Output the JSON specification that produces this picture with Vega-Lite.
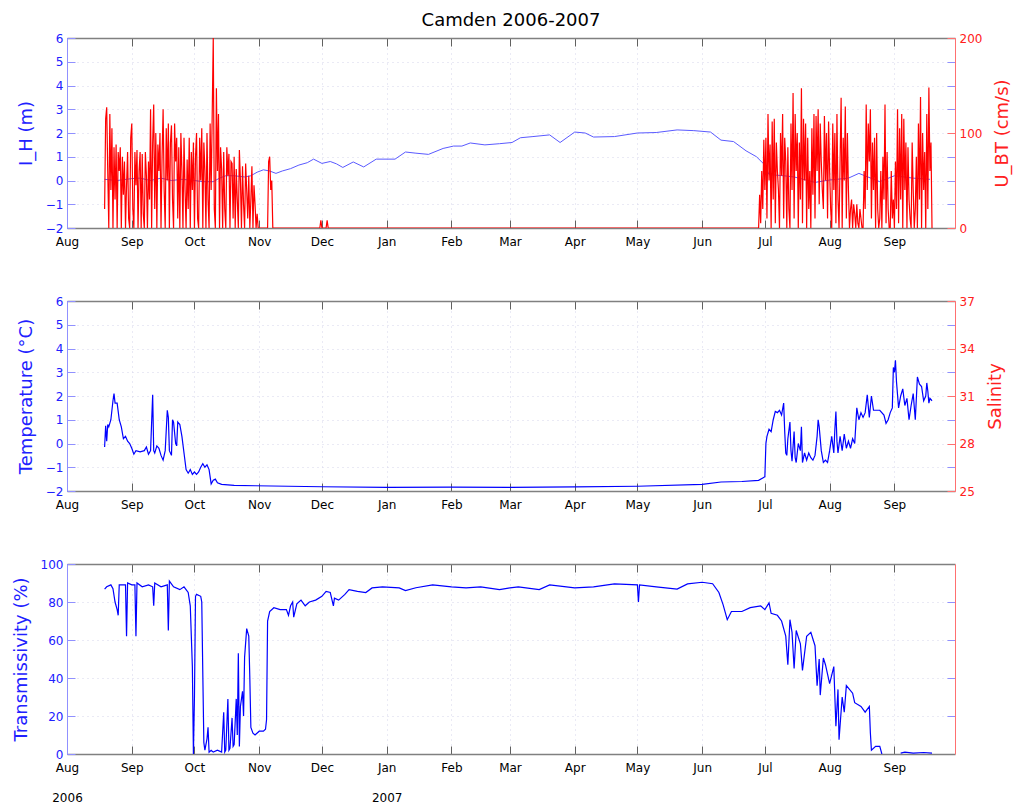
{
"$schema": "https://vega.github.io/schema/vega-lite/v6.json",
"padding": {"left": 12, "top": 12, "right": 5, "bottom": 5},
"title": {"text": "Camden 2006-2007", "font": "DejaVu Sans", "fontSize": 18, "fontWeight": "normal", "color": "#000000", "anchor": "middle", "frame": "group", "offset": 2},
"config": {
  "view": {"stroke": null},
  "font": "DejaVu Sans",
  "axis": {"labelFont": "DejaVu Sans", "labelFontSize": 12, "titleFont": "DejaVu Sans", "titleFontSize": 18, "titleFontWeight": "normal", "tickSize": -8, "labelFlush": false, "labelOverlap": false, "grid": false}
},
"spacing": 48,
"datasets": {
"ih": [{"t":"2006-08-19","v":0.05},{"t":"2006-08-25","v":0.0},{"t":"2006-09-01","v":0.08},{"t":"2006-09-05","v":0.1},{"t":"2006-09-10","v":0.0},{"t":"2006-09-15","v":0.1},{"t":"2006-09-20","v":0.0},{"t":"2006-09-25","v":0.05},{"t":"2006-10-01","v":0.0},{"t":"2006-10-05","v":-0.05},{"t":"2006-10-10","v":-0.05},{"t":"2006-10-13","v":0.1},{"t":"2006-10-16","v":0.2},{"t":"2006-10-20","v":0.2},{"t":"2006-10-25","v":0.15},{"t":"2006-10-28","v":0.2},{"t":"2006-10-31","v":0.35},{"t":"2006-11-03","v":0.45},{"t":"2006-11-06","v":0.4},{"t":"2006-11-09","v":0.3},{"t":"2006-11-12","v":0.4},{"t":"2006-11-16","v":0.5},{"t":"2006-11-20","v":0.65},{"t":"2006-11-24","v":0.75},{"t":"2006-11-27","v":0.9},{"t":"2006-12-01","v":0.72},{"t":"2006-12-05","v":0.8},{"t":"2006-12-08","v":0.7},{"t":"2006-12-11","v":0.55},{"t":"2006-12-16","v":0.78},{"t":"2006-12-21","v":0.57},{"t":"2006-12-27","v":0.9},{"t":"2007-01-05","v":0.9},{"t":"2007-01-10","v":1.2},{"t":"2007-01-15","v":1.15},{"t":"2007-01-21","v":1.1},{"t":"2007-01-28","v":1.35},{"t":"2007-02-02","v":1.45},{"t":"2007-02-06","v":1.45},{"t":"2007-02-10","v":1.58},{"t":"2007-02-17","v":1.5},{"t":"2007-02-24","v":1.55},{"t":"2007-03-02","v":1.6},{"t":"2007-03-06","v":1.8},{"t":"2007-03-12","v":1.85},{"t":"2007-03-20","v":1.92},{"t":"2007-03-25","v":1.6},{"t":"2007-04-01","v":2.04},{"t":"2007-04-06","v":2.0},{"t":"2007-04-10","v":1.83},{"t":"2007-04-20","v":1.85},{"t":"2007-05-01","v":2.0},{"t":"2007-05-10","v":2.02},{"t":"2007-05-20","v":2.13},{"t":"2007-05-28","v":2.1},{"t":"2007-06-05","v":2.04},{"t":"2007-06-10","v":1.7},{"t":"2007-06-16","v":1.64},{"t":"2007-06-22","v":1.25},{"t":"2007-06-27","v":1.0},{"t":"2007-07-01","v":0.65},{"t":"2007-07-03","v":0.25},{"t":"2007-07-10","v":0.2},{"t":"2007-07-15","v":0.15},{"t":"2007-07-25","v":-0.08},{"t":"2007-08-01","v":0.02},{"t":"2007-08-10","v":0.1},{"t":"2007-08-15","v":0.3},{"t":"2007-08-25","v":-0.05},{"t":"2007-09-01","v":0.2},{"t":"2007-09-10","v":0.1},{"t":"2007-09-18","v":0.05}],
"ubt": [
{"t":"2006-08-19","v":20},{"t":"2006-08-19T12:00","v":115},{"t":"2006-08-20","v":127},{"t":"2006-08-20T12:00","v":60},{"t":"2006-08-21","v":0},{"t":"2006-08-21T12:00","v":120},{"t":"2006-08-22","v":40},{"t":"2006-08-22T12:00","v":105},{"t":"2006-08-23","v":0},{"t":"2006-08-23T12:00","v":85},{"t":"2006-08-24","v":30},{"t":"2006-08-24T12:00","v":88},{"t":"2006-08-25","v":0},{"t":"2006-08-25T12:00","v":80},{"t":"2006-08-26","v":60},{"t":"2006-08-26T12:00","v":85},{"t":"2006-08-27","v":0},{"t":"2006-08-27T12:00","v":75},{"t":"2006-08-28","v":35},{"t":"2006-08-28T12:00","v":70},{"t":"2006-08-29","v":0},{"t":"2006-08-29T12:00","v":45},{"t":"2006-08-30","v":80},{"t":"2006-08-30T12:00","v":10},{"t":"2006-08-31","v":0},{"t":"2006-08-31T12:00","v":95},
{"t":"2006-09-01","v":110},{"t":"2006-09-01T12:00","v":20},{"t":"2006-09-02","v":0},{"t":"2006-09-02T12:00","v":80},{"t":"2006-09-03","v":45},{"t":"2006-09-03T12:00","v":82},{"t":"2006-09-04","v":0},{"t":"2006-09-04T12:00","v":60},{"t":"2006-09-05","v":80},{"t":"2006-09-05T12:00","v":0},{"t":"2006-09-06","v":78},{"t":"2006-09-06T12:00","v":15},{"t":"2006-09-07","v":0},{"t":"2006-09-07T12:00","v":80},{"t":"2006-09-08","v":55},{"t":"2006-09-08T12:00","v":0},{"t":"2006-09-09","v":70},{"t":"2006-09-09T12:00","v":30},{"t":"2006-09-10","v":125},{"t":"2006-09-10T12:00","v":0},{"t":"2006-09-11","v":90},{"t":"2006-09-11T12:00","v":130},{"t":"2006-09-12","v":20},{"t":"2006-09-12T12:00","v":100},{"t":"2006-09-13","v":0},{"t":"2006-09-13T12:00","v":88},{"t":"2006-09-14","v":60},{"t":"2006-09-14T12:00","v":100},{"t":"2006-09-15","v":0},{"t":"2006-09-15T12:00","v":75},{"t":"2006-09-16","v":125},{"t":"2006-09-16T12:00","v":40},{"t":"2006-09-17","v":0},{"t":"2006-09-17T12:00","v":105},{"t":"2006-09-18","v":50},{"t":"2006-09-18T12:00","v":110},{"t":"2006-09-19","v":0},{"t":"2006-09-19T12:00","v":90},{"t":"2006-09-20","v":108},{"t":"2006-09-20T12:00","v":30},{"t":"2006-09-21","v":0},{"t":"2006-09-21T12:00","v":110},{"t":"2006-09-22","v":70},{"t":"2006-09-22T12:00","v":95},{"t":"2006-09-23","v":10},{"t":"2006-09-23T12:00","v":85},{"t":"2006-09-24","v":0},{"t":"2006-09-24T12:00","v":100},{"t":"2006-09-25","v":60},{"t":"2006-09-25T12:00","v":0},{"t":"2006-09-26","v":95},{"t":"2006-09-26T12:00","v":40},{"t":"2006-09-27","v":0},{"t":"2006-09-27T12:00","v":72},{"t":"2006-09-28","v":20},{"t":"2006-09-28T12:00","v":95},{"t":"2006-09-29","v":0},{"t":"2006-09-29T12:00","v":80},{"t":"2006-09-30","v":40},{"t":"2006-09-30T12:00","v":90},
{"t":"2006-10-01","v":0},{"t":"2006-10-01T12:00","v":75},{"t":"2006-10-02","v":100},{"t":"2006-10-02T12:00","v":10},{"t":"2006-10-03","v":0},{"t":"2006-10-03T12:00","v":95},{"t":"2006-10-04","v":50},{"t":"2006-10-04T12:00","v":105},{"t":"2006-10-05","v":0},{"t":"2006-10-05T12:00","v":90},{"t":"2006-10-06","v":60},{"t":"2006-10-06T12:00","v":0},{"t":"2006-10-07","v":100},{"t":"2006-10-07T12:00","v":30},{"t":"2006-10-08","v":0},{"t":"2006-10-08T12:00","v":110},{"t":"2006-10-09","v":40},{"t":"2006-10-09T12:00","v":120},{"t":"2006-10-10","v":200},{"t":"2006-10-10T12:00","v":20},{"t":"2006-10-11","v":0},{"t":"2006-10-11T12:00","v":147},{"t":"2006-10-12","v":60},{"t":"2006-10-12T12:00","v":120},{"t":"2006-10-13","v":0},{"t":"2006-10-13T12:00","v":85},{"t":"2006-10-14","v":62},{"t":"2006-10-14T12:00","v":0},{"t":"2006-10-15","v":80},{"t":"2006-10-15T12:00","v":20},{"t":"2006-10-16","v":0},{"t":"2006-10-16T12:00","v":85},{"t":"2006-10-17","v":55},{"t":"2006-10-17T12:00","v":78},{"t":"2006-10-18","v":0},{"t":"2006-10-18T12:00","v":70},{"t":"2006-10-19","v":68},{"t":"2006-10-19T12:00","v":10},{"t":"2006-10-20","v":75},{"t":"2006-10-20T12:00","v":0},{"t":"2006-10-21","v":62},{"t":"2006-10-21T12:00","v":30},{"t":"2006-10-22","v":0},{"t":"2006-10-22T12:00","v":82},{"t":"2006-10-23","v":50},{"t":"2006-10-23T12:00","v":0},{"t":"2006-10-24","v":65},{"t":"2006-10-24T12:00","v":25},{"t":"2006-10-25","v":0},{"t":"2006-10-25T12:00","v":68},{"t":"2006-10-26","v":40},{"t":"2006-10-26T12:00","v":10},{"t":"2006-10-27","v":55},{"t":"2006-10-27T12:00","v":0},{"t":"2006-10-28","v":30},{"t":"2006-10-28T12:00","v":65},{"t":"2006-10-29","v":0},{"t":"2006-10-29T12:00","v":45},{"t":"2006-10-30","v":25},{"t":"2006-10-30T12:00","v":0},{"t":"2006-10-31","v":15},{"t":"2006-10-31T12:00","v":0},
{"t":"2006-11-05","v":0},{"t":"2006-11-05T12:00","v":70},{"t":"2006-11-06","v":75},{"t":"2006-11-06T12:00","v":40},{"t":"2006-11-07","v":50},{"t":"2006-11-07T12:00","v":0},{"t":"2006-11-30","v":0},{"t":"2006-11-30T12:00","v":8},{"t":"2006-12-01","v":0},{"t":"2006-12-03","v":0},{"t":"2006-12-03T12:00","v":8},{"t":"2006-12-04","v":0},{"t":"2007-06-27","v":0},
{"t":"2007-06-28","v":0},{"t":"2007-06-28T12:00","v":35},{"t":"2007-06-29","v":5},{"t":"2007-06-29T12:00","v":60},{"t":"2007-06-30","v":20},{"t":"2007-06-30T12:00","v":93},
{"t":"2007-07-01","v":40},{"t":"2007-07-01T12:00","v":95},{"t":"2007-07-02","v":10},{"t":"2007-07-02T12:00","v":120},{"t":"2007-07-03","v":50},{"t":"2007-07-03T12:00","v":88},{"t":"2007-07-04","v":0},{"t":"2007-07-04T12:00","v":112},{"t":"2007-07-05","v":30},{"t":"2007-07-05T12:00","v":115},{"t":"2007-07-06","v":5},{"t":"2007-07-06T12:00","v":90},{"t":"2007-07-07","v":60},{"t":"2007-07-07T12:00","v":40},{"t":"2007-07-08","v":0},{"t":"2007-07-08T12:00","v":100},{"t":"2007-07-09","v":55},{"t":"2007-07-09T12:00","v":120},{"t":"2007-07-10","v":10},{"t":"2007-07-10T12:00","v":95},{"t":"2007-07-11","v":70},{"t":"2007-07-11T12:00","v":0},{"t":"2007-07-12","v":85},{"t":"2007-07-12T12:00","v":20},{"t":"2007-07-13","v":0},{"t":"2007-07-13T12:00","v":110},{"t":"2007-07-14","v":40},{"t":"2007-07-14T12:00","v":142},{"t":"2007-07-15","v":10},{"t":"2007-07-15T12:00","v":120},{"t":"2007-07-16","v":60},{"t":"2007-07-16T12:00","v":100},{"t":"2007-07-17","v":0},{"t":"2007-07-17T12:00","v":90},{"t":"2007-07-18","v":30},{"t":"2007-07-18T12:00","v":147},{"t":"2007-07-19","v":5},{"t":"2007-07-19T12:00","v":115},{"t":"2007-07-20","v":50},{"t":"2007-07-20T12:00","v":110},{"t":"2007-07-21","v":0},{"t":"2007-07-21T12:00","v":95},{"t":"2007-07-22","v":20},{"t":"2007-07-22T12:00","v":60},{"t":"2007-07-23","v":0},{"t":"2007-07-23T12:00","v":105},{"t":"2007-07-24","v":35},{"t":"2007-07-24T12:00","v":120},{"t":"2007-07-25","v":10},{"t":"2007-07-25T12:00","v":118},{"t":"2007-07-26","v":60},{"t":"2007-07-26T12:00","v":125},{"t":"2007-07-27","v":25},{"t":"2007-07-27T12:00","v":110},{"t":"2007-07-28","v":70},{"t":"2007-07-28T12:00","v":40},{"t":"2007-07-29","v":20},{"t":"2007-07-29T12:00","v":118},{"t":"2007-07-30","v":50},{"t":"2007-07-30T12:00","v":100},{"t":"2007-07-31","v":10},{"t":"2007-07-31T12:00","v":112},
{"t":"2007-08-01","v":60},{"t":"2007-08-01T12:00","v":20},{"t":"2007-08-02","v":0},{"t":"2007-08-02T12:00","v":110},{"t":"2007-08-03","v":40},{"t":"2007-08-03T12:00","v":100},{"t":"2007-08-04","v":5},{"t":"2007-08-04T12:00","v":120},{"t":"2007-08-05","v":30},{"t":"2007-08-05T12:00","v":0},{"t":"2007-08-06","v":70},{"t":"2007-08-06T12:00","v":137},{"t":"2007-08-07","v":0},{"t":"2007-08-07T12:00","v":95},{"t":"2007-08-08","v":50},{"t":"2007-08-08T12:00","v":128},{"t":"2007-08-09","v":10},{"t":"2007-08-09T12:00","v":100},{"t":"2007-08-10","v":40},{"t":"2007-08-10T12:00","v":0},{"t":"2007-08-11","v":20},{"t":"2007-08-11T12:00","v":30},{"t":"2007-08-12","v":0},{"t":"2007-08-12T12:00","v":25},{"t":"2007-08-13","v":15},{"t":"2007-08-13T12:00","v":0},{"t":"2007-08-14","v":25},{"t":"2007-08-14T12:00","v":5},{"t":"2007-08-15","v":0},{"t":"2007-08-15T12:00","v":20},{"t":"2007-08-16","v":10},{"t":"2007-08-16T12:00","v":0},{"t":"2007-08-17","v":0},{"t":"2007-08-17T12:00","v":60},{"t":"2007-08-18","v":20},{"t":"2007-08-18T12:00","v":130},{"t":"2007-08-19","v":40},{"t":"2007-08-19T12:00","v":110},{"t":"2007-08-20","v":70},{"t":"2007-08-20T12:00","v":125},{"t":"2007-08-21","v":10},{"t":"2007-08-21T12:00","v":90},{"t":"2007-08-22","v":40},{"t":"2007-08-22T12:00","v":95},{"t":"2007-08-23","v":0},{"t":"2007-08-23T12:00","v":100},{"t":"2007-08-24","v":20},{"t":"2007-08-24T12:00","v":0},{"t":"2007-08-25","v":10},{"t":"2007-08-25T12:00","v":60},{"t":"2007-08-26","v":0},{"t":"2007-08-26T12:00","v":75},{"t":"2007-08-27","v":30},{"t":"2007-08-27T12:00","v":130},{"t":"2007-08-28","v":5},{"t":"2007-08-28T12:00","v":80},{"t":"2007-08-29","v":20},{"t":"2007-08-29T12:00","v":0},{"t":"2007-08-30","v":0},{"t":"2007-08-30T12:00","v":60},{"t":"2007-08-31","v":10},{"t":"2007-08-31T12:00","v":30},
{"t":"2007-09-01","v":0},{"t":"2007-09-01T12:00","v":70},{"t":"2007-09-02","v":20},{"t":"2007-09-02T12:00","v":125},{"t":"2007-09-03","v":5},{"t":"2007-09-03T12:00","v":105},{"t":"2007-09-04","v":30},{"t":"2007-09-04T12:00","v":120},{"t":"2007-09-05","v":0},{"t":"2007-09-05T12:00","v":115},{"t":"2007-09-06","v":40},{"t":"2007-09-06T12:00","v":90},{"t":"2007-09-07","v":0},{"t":"2007-09-07T12:00","v":85},{"t":"2007-09-08","v":30},{"t":"2007-09-08T12:00","v":10},{"t":"2007-09-09","v":0},{"t":"2007-09-09T12:00","v":90},{"t":"2007-09-10","v":40},{"t":"2007-09-10T12:00","v":0},{"t":"2007-09-11","v":20},{"t":"2007-09-11T12:00","v":75},{"t":"2007-09-12","v":0},{"t":"2007-09-12T12:00","v":110},{"t":"2007-09-13","v":30},{"t":"2007-09-13T12:00","v":138},{"t":"2007-09-14","v":0},{"t":"2007-09-14T12:00","v":100},{"t":"2007-09-15","v":40},{"t":"2007-09-15T12:00","v":80},{"t":"2007-09-16","v":0},{"t":"2007-09-16T12:00","v":120},{"t":"2007-09-17","v":20},{"t":"2007-09-17T12:00","v":148},{"t":"2007-09-18","v":60},{"t":"2007-09-18T12:00","v":90},{"t":"2007-09-19","v":0}],
"temp": [{"t":"2006-08-19","v":-0.15},{"t":"2006-08-19T12:00","v":0.75},{"t":"2006-08-20","v":0.1},{"t":"2006-08-20T12:00","v":0.8},{"t":"2006-08-21","v":0.7},{"t":"2006-08-22","v":1.0},{"t":"2006-08-23","v":1.8},{"t":"2006-08-23T12:00","v":2.1},{"t":"2006-08-24","v":1.7},{"t":"2006-08-25","v":1.7},{"t":"2006-08-26","v":1.0},{"t":"2006-08-27","v":0.7},{"t":"2006-08-28","v":0.2},{"t":"2006-08-29","v":0.3},{"t":"2006-08-30","v":0.1},{"t":"2006-08-31","v":0.0},{"t":"2006-09-01","v":-0.2},{"t":"2006-09-02","v":-0.45},{"t":"2006-09-03","v":-0.3},{"t":"2006-09-05","v":-0.35},{"t":"2006-09-07","v":-0.3},{"t":"2006-09-08","v":-0.15},{"t":"2006-09-09","v":-0.45},{"t":"2006-09-10","v":-0.3},{"t":"2006-09-11","v":2.05},{"t":"2006-09-11T12:00","v":-0.3},{"t":"2006-09-12","v":-0.4},{"t":"2006-09-13","v":-0.1},{"t":"2006-09-14","v":-0.2},{"t":"2006-09-15","v":-0.5},{"t":"2006-09-16","v":-0.7},{"t":"2006-09-17","v":-0.3},{"t":"2006-09-18","v":1.4},{"t":"2006-09-18T12:00","v":1.1},{"t":"2006-09-19","v":-0.3},{"t":"2006-09-20","v":-0.5},{"t":"2006-09-20T12:00","v":1.0},{"t":"2006-09-21","v":0.9},{"t":"2006-09-22","v":0.0},{"t":"2006-09-22T12:00","v":-0.1},{"t":"2006-09-23","v":0.9},{"t":"2006-09-24","v":0.8},{"t":"2006-09-25","v":0.3},{"t":"2006-09-26","v":-0.4},{"t":"2006-09-27","v":-1.1},{"t":"2006-09-28","v":-1.25},{"t":"2006-09-29","v":-1.1},{"t":"2006-09-30","v":-1.3},{"t":"2006-10-01","v":-1.2},{"t":"2006-10-02","v":-1.3},{"t":"2006-10-03","v":-1.2},{"t":"2006-10-04","v":-1.0},{"t":"2006-10-05","v":-0.85},{"t":"2006-10-06","v":-1.0},{"t":"2006-10-07","v":-0.9},{"t":"2006-10-08","v":-1.1},{"t":"2006-10-09","v":-1.7},{"t":"2006-10-10","v":-1.55},{"t":"2006-10-11","v":-1.5},{"t":"2006-10-12","v":-1.65},{"t":"2006-10-14","v":-1.72},{"t":"2006-10-20","v":-1.76},{"t":"2006-10-30","v":-1.78},{"t":"2006-11-15","v":-1.8},{"t":"2006-12-01","v":-1.82},{"t":"2007-01-01","v":-1.85},{"t":"2007-02-01","v":-1.84},{"t":"2007-03-01","v":-1.85},{"t":"2007-04-01","v":-1.83},{"t":"2007-05-01","v":-1.8},{"t":"2007-06-01","v":-1.72},{"t":"2007-06-10","v":-1.62},{"t":"2007-06-20","v":-1.6},{"t":"2007-06-28","v":-1.55},{"t":"2007-06-30","v":-1.45},{"t":"2007-07-01","v":-1.4},{"t":"2007-07-01T12:00","v":0.0},{"t":"2007-07-02","v":0.3},{"t":"2007-07-03","v":0.6},{"t":"2007-07-04","v":0.5},{"t":"2007-07-05","v":1.0},{"t":"2007-07-06","v":1.35},{"t":"2007-07-07","v":1.3},{"t":"2007-07-08","v":1.4},{"t":"2007-07-09","v":1.2},{"t":"2007-07-10","v":1.7},{"t":"2007-07-10T12:00","v":0.5},{"t":"2007-07-11","v":-0.4},{"t":"2007-07-11T12:00","v":-0.5},{"t":"2007-07-12","v":0.2},{"t":"2007-07-13","v":0.9},{"t":"2007-07-13T12:00","v":-0.3},{"t":"2007-07-14","v":-0.75},{"t":"2007-07-15","v":0.5},{"t":"2007-07-15T12:00","v":-0.6},{"t":"2007-07-16","v":-0.8},{"t":"2007-07-17","v":0.0},{"t":"2007-07-18","v":-0.3},{"t":"2007-07-18T12:00","v":0.7},{"t":"2007-07-19","v":-0.8},{"t":"2007-07-20","v":-0.4},{"t":"2007-07-21","v":-0.7},{"t":"2007-07-22","v":-0.4},{"t":"2007-07-23","v":-0.6},{"t":"2007-07-24","v":-0.7},{"t":"2007-07-25","v":-0.5},{"t":"2007-07-26","v":0.3},{"t":"2007-07-26T12:00","v":1.0},{"t":"2007-07-27","v":0.7},{"t":"2007-07-28","v":-0.3},{"t":"2007-07-29","v":-0.8},{"t":"2007-07-30","v":-0.7},{"t":"2007-07-31","v":-0.8},{"t":"2007-08-01","v":-0.3},{"t":"2007-08-02","v":0.3},{"t":"2007-08-03","v":-0.4},{"t":"2007-08-03T12:00","v":0.6},{"t":"2007-08-04","v":1.35},{"t":"2007-08-04T12:00","v":0.1},{"t":"2007-08-05","v":-0.4},{"t":"2007-08-06","v":0.3},{"t":"2007-08-07","v":-0.3},{"t":"2007-08-08","v":0.4},{"t":"2007-08-09","v":-0.2},{"t":"2007-08-10","v":0.1},{"t":"2007-08-11","v":-0.2},{"t":"2007-08-12","v":0.2},{"t":"2007-08-13","v":0.0},{"t":"2007-08-14","v":1.5},{"t":"2007-08-15","v":1.0},{"t":"2007-08-16","v":1.3},{"t":"2007-08-17","v":1.1},{"t":"2007-08-18","v":1.3},{"t":"2007-08-19","v":2.05},{"t":"2007-08-20","v":1.1},{"t":"2007-08-21","v":2.0},{"t":"2007-08-22","v":1.4},{"t":"2007-08-23","v":1.4},{"t":"2007-08-25","v":1.4},{"t":"2007-08-27","v":1.2},{"t":"2007-08-28","v":0.85},{"t":"2007-08-29","v":1.0},{"t":"2007-08-30","v":1.3},{"t":"2007-08-31","v":1.5},{"t":"2007-08-31T12:00","v":3.2},{"t":"2007-09-01","v":3.0},{"t":"2007-09-01T12:00","v":3.5},{"t":"2007-09-02","v":2.6},{"t":"2007-09-03","v":1.5},{"t":"2007-09-04","v":2.0},{"t":"2007-09-05","v":2.3},{"t":"2007-09-06","v":1.6},{"t":"2007-09-07","v":1.9},{"t":"2007-09-08","v":1.0},{"t":"2007-09-09","v":1.6},{"t":"2007-09-10","v":2.1},{"t":"2007-09-11","v":1.0},{"t":"2007-09-12","v":2.8},{"t":"2007-09-13","v":2.5},{"t":"2007-09-14","v":2.4},{"t":"2007-09-15","v":1.8},{"t":"2007-09-16","v":2.0},{"t":"2007-09-16T12:00","v":2.55},{"t":"2007-09-17","v":2.2},{"t":"2007-09-17T12:00","v":1.7},{"t":"2007-09-18","v":1.9},{"t":"2007-09-19","v":1.8}],
"trans": [{"t":"2006-08-19","v":86.8},{"t":"2006-08-20","v":88},{"t":"2006-08-22","v":89},{"t":"2006-08-23","v":87},{"t":"2006-08-24","v":80},{"t":"2006-08-25","v":76},{"t":"2006-08-25T12:00","v":73},{"t":"2006-08-26","v":89},{"t":"2006-08-28","v":89},{"t":"2006-08-29","v":89},{"t":"2006-08-29T12:00","v":62},{"t":"2006-08-30","v":90},{"t":"2006-09-01","v":89},{"t":"2006-09-02T12:00","v":89},{"t":"2006-09-03","v":62},{"t":"2006-09-03T12:00","v":90},{"t":"2006-09-06","v":88},{"t":"2006-09-09","v":89},{"t":"2006-09-11","v":88},{"t":"2006-09-11T12:00","v":78},{"t":"2006-09-12","v":90},{"t":"2006-09-15","v":88},{"t":"2006-09-18","v":89},{"t":"2006-09-18T12:00","v":65},{"t":"2006-09-19","v":91},{"t":"2006-09-21","v":88},{"t":"2006-09-24","v":86.5},{"t":"2006-09-26","v":88},{"t":"2006-09-28","v":85},{"t":"2006-09-29","v":78},{"t":"2006-09-30","v":46},{"t":"2006-09-30T12:00","v":0},{"t":"2006-10-01","v":30},{"t":"2006-10-01T12:00","v":83},{"t":"2006-10-02","v":84},{"t":"2006-10-04","v":83},{"t":"2006-10-04T12:00","v":80},{"t":"2006-10-05","v":42},{"t":"2006-10-05T12:00","v":6},{"t":"2006-10-06","v":2},{"t":"2006-10-07","v":8},{"t":"2006-10-07T12:00","v":14},{"t":"2006-10-08","v":1},{"t":"2006-10-09","v":2},{"t":"2006-10-10","v":1},{"t":"2006-10-12","v":2},{"t":"2006-10-14","v":1},{"t":"2006-10-15","v":22},{"t":"2006-10-15T12:00","v":1},{"t":"2006-10-16","v":2},{"t":"2006-10-17","v":29},{"t":"2006-10-17T12:00","v":2},{"t":"2006-10-18","v":3},{"t":"2006-10-19","v":19},{"t":"2006-10-19T12:00","v":4},{"t":"2006-10-20","v":5},{"t":"2006-10-21","v":29},{"t":"2006-10-21T12:00","v":10},{"t":"2006-10-22","v":53},{"t":"2006-10-22T12:00","v":4},{"t":"2006-10-23","v":25},{"t":"2006-10-24","v":33},{"t":"2006-10-24T12:00","v":20},{"t":"2006-10-25","v":51},{"t":"2006-10-26","v":66},{"t":"2006-10-27","v":62},{"t":"2006-10-27T12:00","v":40},{"t":"2006-10-28","v":14},{"t":"2006-10-29","v":11},{"t":"2006-10-30","v":10},{"t":"2006-11-01","v":12},{"t":"2006-11-03","v":12},{"t":"2006-11-04","v":13},{"t":"2006-11-04T12:00","v":18},{"t":"2006-11-05","v":70},{"t":"2006-11-06","v":75},{"t":"2006-11-08","v":77},{"t":"2006-11-11","v":76},{"t":"2006-11-14","v":76},{"t":"2006-11-15","v":73},{"t":"2006-11-16","v":78},{"t":"2006-11-17","v":80},{"t":"2006-11-17T12:00","v":72},{"t":"2006-11-19","v":79},{"t":"2006-11-21","v":81},{"t":"2006-11-23","v":78},{"t":"2006-11-25","v":80},{"t":"2006-11-28","v":81},{"t":"2006-12-01","v":83},{"t":"2006-12-03","v":85.6},{"t":"2006-12-05","v":85},{"t":"2006-12-06T12:00","v":78},{"t":"2006-12-07","v":82},{"t":"2006-12-09","v":81},{"t":"2006-12-12","v":84},{"t":"2006-12-14","v":86.5},{"t":"2006-12-18","v":85.6},{"t":"2006-12-22","v":85},{"t":"2006-12-25","v":87.4},{"t":"2006-12-30","v":88},{"t":"2007-01-07","v":87.4},{"t":"2007-01-10","v":86},{"t":"2007-01-15","v":87.5},{"t":"2007-01-23","v":89},{"t":"2007-02-01","v":88},{"t":"2007-02-08","v":87.4},{"t":"2007-02-15","v":88},{"t":"2007-02-24","v":86.5},{"t":"2007-03-01","v":87.4},{"t":"2007-03-05","v":88},{"t":"2007-03-15","v":86.5},{"t":"2007-03-20","v":89},{"t":"2007-04-01","v":87.4},{"t":"2007-04-10","v":88},{"t":"2007-04-20","v":89.5},{"t":"2007-05-01","v":89},{"t":"2007-05-01T12:00","v":80},{"t":"2007-05-02","v":89},{"t":"2007-05-10","v":88},{"t":"2007-05-20","v":86.8},{"t":"2007-05-25","v":89.5},{"t":"2007-06-01","v":90.4},{"t":"2007-06-06","v":89.6},{"t":"2007-06-09","v":85},{"t":"2007-06-11","v":78.6},{"t":"2007-06-13","v":70.7},{"t":"2007-06-15","v":75},{"t":"2007-06-20","v":75},{"t":"2007-06-24","v":77},{"t":"2007-06-29","v":78},{"t":"2007-07-01","v":76},{"t":"2007-07-03","v":79.5},{"t":"2007-07-04","v":74},{"t":"2007-07-07","v":73},{"t":"2007-07-09","v":70},{"t":"2007-07-11","v":62},{"t":"2007-07-12","v":47},{"t":"2007-07-13","v":70.7},{"t":"2007-07-14","v":64},{"t":"2007-07-15","v":45},{"t":"2007-07-16","v":65},{"t":"2007-07-18","v":58},{"t":"2007-07-19","v":44},{"t":"2007-07-21","v":62},{"t":"2007-07-23","v":64},{"t":"2007-07-25","v":57},{"t":"2007-07-26","v":36},{"t":"2007-07-27","v":50},{"t":"2007-07-27T12:00","v":31},{"t":"2007-07-29","v":50.5},{"t":"2007-07-30","v":47},{"t":"2007-08-01","v":37},{"t":"2007-08-03","v":46},{"t":"2007-08-04","v":14.6},{"t":"2007-08-05","v":34},{"t":"2007-08-05T12:00","v":7.5},{"t":"2007-08-07","v":30},{"t":"2007-08-08","v":22},{"t":"2007-08-09","v":36},{"t":"2007-08-12","v":32},{"t":"2007-08-13","v":27},{"t":"2007-08-16","v":25},{"t":"2007-08-18","v":22},{"t":"2007-08-20","v":25},{"t":"2007-08-20T12:00","v":11},{"t":"2007-08-21","v":2},{"t":"2007-08-23","v":4},{"t":"2007-08-25","v":4},{"t":"2007-08-26","v":0},{"t":"2007-08-30","v":null},{"t":"2007-09-04","v":0.5},{"t":"2007-09-06","v":1},{"t":"2007-09-10","v":0.5},{"t":"2007-09-15","v":0.8},{"t":"2007-09-19","v":0.5}]
},
"vconcat": [
{
  "width": 888, "height": 190,
  "resolve": {"scale": {"y": "independent"}, "axis": {"x": "independent"}},
  "layer": [
    {"data": {"name": "ih"}, "mark": {"type": "line", "color": "#5a5aff", "strokeWidth": 1, "clip": true},
     "encoding": {
       "x": {"field": "t", "type": "temporal", "scale": {"domain": [{"year": 2006, "month": "aug", "date": 1}, {"year": 2007, "month": "sep", "date": 30}]},
             "axis": {"orient": "bottom", "format": "%b", "tickCount": {"interval": "month", "step": 1}, "labelColor": "#000000", "domainColor": "#808080", "domainWidth": 1.5, "tickColor": "#606060", "labelPadding": 16, "title": null, "grid": true, "gridColor": "#d4d4ea", "gridDash": [1, 4]}},
       "y": {"field": "v", "type": "quantitative", "scale": {"domain": [-2, 6], "nice": false},
             "axis": {"orient": "left", "values": [-2, -1, 0, 1, 2, 3, 4, 5, 6], "labelColor": "#2020ff", "domainColor": "#9090ff", "tickColor": "#9090ff", "labelPadding": 12, "title": "I_H (m)", "titleColor": "#2020ff", "titlePadding": 10, "grid": true, "gridColor": "#d4d4ea", "gridDash": [1, 4]}}
     }},
    {"data": {"name": "ubt"}, "mark": {"type": "line", "color": "#ff0000", "strokeWidth": 1.2, "clip": true},
     "encoding": {
       "x": {"field": "t", "type": "temporal",
             "axis": {"orient": "top", "tickCount": {"interval": "month", "step": 1}, "labels": false, "domainColor": "#808080", "domainWidth": 1.5, "tickColor": "#606060", "title": null, "grid": false}},
       "y": {"field": "v", "type": "quantitative", "scale": {"domain": [0, 200], "nice": false},
             "axis": {"orient": "right", "values": [0, 25, 50, 75, 100, 125, 150, 175, 200], "labelExpr": "datum.value % 100 == 0 ? datum.label : ''", "labelColor": "#ff2020", "domainColor": "#ff7070", "tickColor": {"condition": {"test": "datum.value % 100 == 0", "value": "#ff7070"}, "value": "#9090ff"}, "labelPadding": 12, "title": "U_BT (cm/s)", "titleColor": "#ff2020", "titleAngle": 270, "titleBaseline": "top", "titlePadding": 12, "grid": false}}
     }}
  ]
},
{
  "width": 888, "height": 190,
  "resolve": {"scale": {"y": "independent"}, "axis": {"x": "independent"}},
  "layer": [
    {"data": {"name": "temp"}, "mark": {"type": "line", "color": "#0000ff", "strokeWidth": 1.2, "clip": true},
     "encoding": {
       "x": {"field": "t", "type": "temporal", "scale": {"domain": [{"year": 2006, "month": "aug", "date": 1}, {"year": 2007, "month": "sep", "date": 30}]},
             "axis": {"orient": "bottom", "format": "%b", "tickCount": {"interval": "month", "step": 1}, "labelColor": "#000000", "domainColor": "#808080", "domainWidth": 1.5, "tickColor": "#606060", "labelPadding": 16, "title": null, "grid": true, "gridColor": "#d4d4ea", "gridDash": [1, 4]}},
       "y": {"field": "v", "type": "quantitative", "scale": {"domain": [-2, 6], "nice": false},
             "axis": {"orient": "left", "values": [-2, -1, 0, 1, 2, 3, 4, 5, 6], "labelColor": "#2020ff", "domainColor": "#9090ff", "tickColor": "#9090ff", "labelPadding": 12, "title": "Temperature (°C)", "titleColor": "#2020ff", "titlePadding": 10, "grid": true, "gridColor": "#d4d4ea", "gridDash": [1, 4]}}
     }},
    {"data": {"name": "temp"}, "mark": {"type": "line", "opacity": 0, "clip": true},
     "encoding": {
       "x": {"field": "t", "type": "temporal",
             "axis": {"orient": "top", "tickCount": {"interval": "month", "step": 1}, "labels": false, "domainColor": "#808080", "domainWidth": 1.5, "tickColor": "#606060", "title": null, "grid": false}},
       "y": {"field": "v", "type": "quantitative", "scale": {"domain": [25, 37], "nice": false},
             "axis": {"orient": "right", "values": [25, 26.5, 28, 29.5, 31, 32.5, 34, 35.5, 37], "labelExpr": "(datum.value - 25) % 3 == 0 ? datum.label : ''", "labelColor": "#ff2020", "domainColor": "#ff7070", "tickColor": {"condition": {"test": "(datum.value - 25) % 3 == 0", "value": "#ff7070"}, "value": "#9090ff"}, "labelPadding": 12, "title": "Salinity", "titleColor": "#ff2020", "titleAngle": 270, "titleBaseline": "top", "titlePadding": 12, "grid": false}}
     }}
  ]
},
{
  "width": 888, "height": 190,
  "resolve": {"scale": {"y": "independent"}, "axis": {"x": "independent"}},
  "layer": [
    {"data": {"name": "trans"}, "mark": {"type": "line", "color": "#0000ff", "strokeWidth": 1.2, "clip": true, "invalid": "break-paths-filter-domains"},
     "encoding": {
       "x": {"field": "t", "type": "temporal", "scale": {"domain": [{"year": 2006, "month": "aug", "date": 1}, {"year": 2007, "month": "sep", "date": 30}]},
             "axis": {"orient": "bottom", "format": "%b", "tickCount": {"interval": "month", "step": 1}, "labelColor": "#000000", "domainColor": "#808080", "domainWidth": 1.5, "tickColor": "#606060", "labelPadding": 16, "title": null, "grid": true, "gridColor": "#d4d4ea", "gridDash": [1, 4]}},
       "y": {"field": "v", "type": "quantitative", "scale": {"domain": [0, 100], "nice": false},
             "axis": {"orient": "left", "values": [0, 20, 40, 60, 80, 100], "labelColor": "#2020ff", "domainColor": "#9090ff", "tickColor": "#9090ff", "labelPadding": 12, "title": "Transmissivity (%)", "titleColor": "#2020ff", "titlePadding": 10, "grid": true, "gridColor": "#d4d4ea", "gridDash": [1, 4]}}
     }},
    {"data": {"name": "trans"}, "mark": {"type": "line", "opacity": 0, "clip": true},
     "encoding": {
       "x": {"field": "t", "type": "temporal",
             "axis": {"orient": "top", "tickCount": {"interval": "month", "step": 1}, "labels": false, "domainColor": "#808080", "domainWidth": 1.5, "tickColor": "#606060", "title": null, "grid": false}},
       "y": {"field": "v", "type": "quantitative", "scale": {"domain": [0, 100], "nice": false},
             "axis": {"orient": "right", "values": [20, 40, 60, 80], "labels": false, "domainColor": "#ff7070", "tickColor": "#9090ff", "title": null, "grid": false}}
     }},
    {"data": {"name": "trans"}, "mark": {"type": "line", "opacity": 0, "clip": true},
     "encoding": {
       "x": {"field": "t", "type": "temporal",
             "axis": {"orient": "bottom", "values": [{"year": 2006, "month": "aug", "date": 1}, {"year": 2007, "month": "jan", "date": 1}], "format": "%Y", "domain": false, "ticks": false, "labels": true, "labelColor": "#000000", "labelPadding": 0, "offset": 38, "title": null, "grid": false}},
       "y": {"field": "v", "type": "quantitative", "scale": {"domain": [0, 100], "nice": false}, "axis": null}
     }}
  ]
}
]
}
